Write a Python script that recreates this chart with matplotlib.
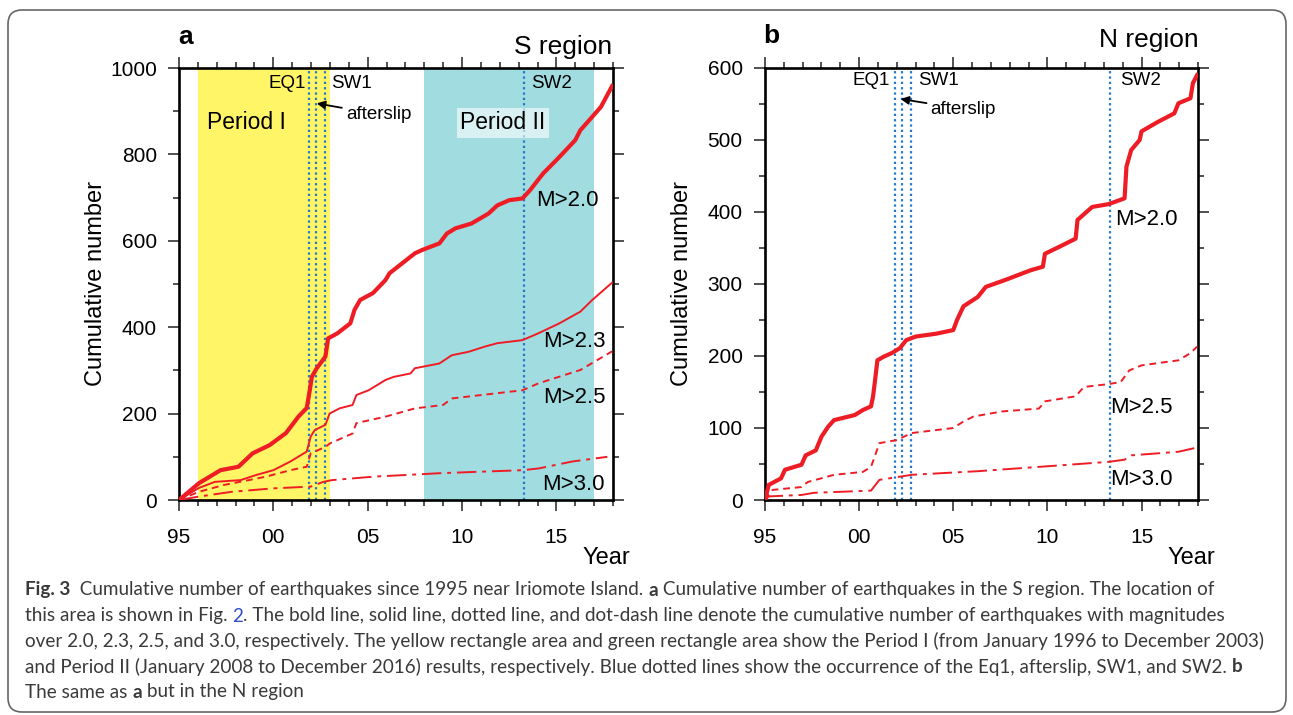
import matplotlib
matplotlib.use('Agg')
import matplotlib.pyplot as plt
from matplotlib.patches import FancyBboxPatch
from matplotlib.transforms import IdentityTransform

plt.rcParams['font.family'] = ['Liberation Sans', 'DejaVu Sans']

# ---- data ----
S_M20_year = [1995.0, 1996.06, 1997.2, 1998.15, 1998.9, 1999.8, 2000.67, 2001.33, 2001.77, 2001.93,
              2002.04, 2002.3, 2002.76, 2002.9, 2003.4, 2004.08, 2004.3, 2004.6, 2005.28, 2005.94,
              2006.16, 2007.5, 2007.9, 2008.8, 2009.2, 2009.66, 2010.5, 2011.4, 2011.87, 2012.5,
              2013.2, 2013.6, 2014.3, 2015.16, 2016.0, 2016.27, 2016.9, 2017.36, 2017.95]
S_M20_count = [0, 39, 69, 77, 108, 127, 155, 193, 213, 254,
               285, 305, 332, 374, 386, 409, 440, 463, 479, 509,
               525, 571, 579, 594, 617, 629, 640, 663, 682, 694,
               698, 717, 756, 794, 833, 856, 887, 910, 958]

S_M23_year = [1995.0, 1996.06, 1996.9, 1998.26, 1999.1, 2000.0, 2000.9, 2001.77, 2001.98, 2002.2,
              2002.76, 2002.98, 2003.5, 2004.2, 2004.4, 2005.05, 2005.95, 2006.38, 2007.27, 2007.5,
              2008.8, 2009.45, 2010.34, 2011.2, 2011.87, 2013.2, 2014.05, 2015.16, 2016.27, 2016.9,
              2017.95]
S_M23_count = [0, 28, 42, 46, 58, 69, 89, 112, 147, 162,
               174, 200, 212, 220, 243, 254, 278, 285, 293, 305,
               316, 335, 343, 355, 363, 370, 386, 409, 436, 463,
               503]

S_M25_year = [1995.0, 1996.06, 1997.4, 1998.7, 1999.6, 2000.9, 2001.77, 2001.98, 2002.4, 2002.76,
              2003.0, 2004.2, 2004.4, 2005.95, 2007.5, 2009.0, 2009.45, 2013.2, 2014.05, 2016.27,
              2017.95]
S_M25_count = [0, 19, 35, 46, 54, 69, 77, 108, 116, 123,
               131, 154, 178, 193, 212, 220, 235, 254, 270, 301,
               344]

S_M30_year = [1995.0, 1996.06, 1997.8, 2000.0, 2001.98, 2002.65, 2003.1, 2005.3, 2008.8, 2013.2,
              2014.05, 2015.83, 2017.7]
S_M30_count = [0, 8, 19, 27, 31, 42, 46, 54, 62, 69, 73, 89, 100]

N_M20_year = [1995.0, 1995.2, 1995.85, 1996.06, 1996.94, 1997.16, 1997.7, 1998.0, 1998.36, 1998.67,
              1999.77, 2000.2, 2000.63, 2000.74, 2000.85, 2000.97, 2001.3, 2001.73, 2002.17, 2002.5,
              2003.0, 2004.1, 2005.0, 2005.2, 2005.54, 2006.3, 2006.73, 2007.8, 2008.0, 2009.1,
              2009.76, 2009.87, 2010.66, 2011.5, 2011.6, 2012.38, 2013.26, 2014.1, 2014.2, 2014.45,
              2014.9, 2015.0, 2015.86, 2016.74, 2016.96, 2017.6, 2017.73, 2017.95]
N_M20_count = [0, 21, 30, 42, 49, 62, 69, 88, 102, 111,
               118, 125, 130, 144, 167, 194, 199, 204, 211, 222,
               227, 231, 236, 250, 269, 282, 296, 306, 308, 319,
               324, 342, 352, 363, 389, 407, 411, 419, 463, 486,
               500, 512, 525, 537, 551, 558, 579, 590]

N_M25_year = [1995.0, 1995.4, 1996.94, 1997.27, 1998.67, 2000.2, 2000.63, 2001.08, 2001.96, 2002.8,
              2005.0, 2005.54, 2006.08, 2007.6, 2009.55, 2009.87, 2011.5, 2011.94, 2013.26, 2013.9,
              2014.35, 2015.0, 2016.96, 2017.6, 2017.95]
N_M25_count = [0, 14, 18, 25, 35, 39, 46, 79, 83, 93,
               100, 109, 116, 123, 127, 137, 144, 157, 161, 164,
               180, 187, 194, 204, 213]

N_M30_year = [1995.0, 1995.2, 1996.94, 1997.6, 2000.63, 2001.08, 2002.8, 2006.3, 2009.55, 2013.26,
              2014.1, 2014.45, 2016.96, 2017.8]
N_M30_count = [0, 5, 7, 10, 13, 28, 35, 40, 46, 53, 56, 62, 67, 72]

event_names = ['EQ1', 'afterslip', 'SW1', 'SW2']
event_years = [2001.9, 2002.27, 2002.73, 2013.3]
period1 = (1996.0, 2003.0)
period2 = (2008.0, 2017.0)

xticks = [1995, 2000, 2005, 2010, 2015]
xticklabels = ['95', '00', '05', '10', '15']

RED = '#ee1c25'
BLUE = '#1f78c8'
W, H = 1293, 715

fig = plt.figure(figsize=(W / 100, H / 100), dpi=100)
fig.patch.set_facecolor('white')


def px_axes(left, right, top, bottom):
    return fig.add_axes([left / W, 1 - bottom / H, (right - left) / W, (bottom - top) / H])


def style_axes(ax, ymax, ymajor, yminor):
    ax.set_xlim(1995, 2018)
    ax.set_ylim(0, ymax)
    ax.set_xticks(xticks)
    ax.set_xticklabels(xticklabels)
    ax.set_xticks(range(1995, 2019), minor=True)
    ax.set_yticks(range(0, ymax + 1, ymajor))
    ax.set_yticks(range(0, ymax + 1, yminor), minor=True)
    for s in ax.spines.values():
        s.set_linewidth(1.9)
    ax.tick_params(which='both', direction='out', top=True, right=True,
                   width=1.2, color='#333333', labelsize=15)
    ax.tick_params(which='major', length=8)
    ax.tick_params(which='minor', length=4.5)
    ax.tick_params(axis='y', pad=8)
    ax.tick_params(axis='x', pad=12)
    ax.text(-0.192, 0.5, 'Cumulative number', transform=ax.transAxes, rotation=90,
            ha='center', va='center', fontsize=17)
    ax.text(1.04, -0.134, 'Year', transform=ax.transAxes, ha='right', va='center', fontsize=17)


def draw_events(ax):
    for yr in event_years:
        ax.axvline(yr, color=BLUE, lw=1.6, ls=(0, (1, 1.4)), zorder=2)


def draw_curves(ax, curves):
    for yrs, cnt, lw, ls in curves:
        ax.plot(yrs, cnt, color=RED, lw=lw, ls=ls, zorder=3, solid_joinstyle='round')


# ---- panel a: S region ----
ax1 = px_axes(179, 613, 68, 500)
ax1.axvspan(*period1, color='#fff566', lw=0, zorder=0)
ax1.axvspan(*period2, color='#a1dde0', lw=0, zorder=0)
draw_events(ax1)
draw_curves(ax1, [
    (S_M20_year, S_M20_count, 3.0, '-'),
    (S_M23_year, S_M23_count, 1.4, '-'),
    (S_M25_year, S_M25_count, 1.4, (0, (3.5, 2.5))),
    (S_M30_year, S_M30_count, 1.4, (0, (10, 3, 2, 3))),
])
style_axes(ax1, 1000, 200, 100)
ax1.text(2001.75, 965, 'EQ1', ha='right', va='center', fontsize=13.5)
ax1.text(2003.05, 965, 'SW1', ha='left', va='center', fontsize=13.5)
ax1.text(2013.65, 965, 'SW2', ha='left', va='center', fontsize=13.5)
ax1.annotate('afterslip', xy=(2002.3, 918), xytext=(2003.85, 893), ha='left', va='center',
             fontsize=13.5, arrowprops=dict(arrowstyle='-|>', color='black', lw=1.3,
                                            mutation_scale=12, shrinkA=1, shrinkB=0))
ax1.text(1996.5, 873, 'Period I', ha='left', va='center', fontsize=16.5)
ax1.text(2009.9, 873, 'Period II', ha='left', va='center', fontsize=16.5,
          bbox=dict(boxstyle='square,pad=0.15', fc='white', ec='none', alpha=0.6))
ax1.text(2013.95, 694, 'M>2.0', ha='left', va='center', fontsize=16)
ax1.text(2014.3, 366, 'M>2.3', ha='left', va='center', fontsize=16)
ax1.text(2014.3, 238, 'M>2.5', ha='left', va='center', fontsize=16)
ax1.text(2014.25, 37, 'M>3.0', ha='left', va='center', fontsize=16)
fig.text(178 / W, 1 - 44 / H, 'a', fontsize=19, fontweight='bold', ha='left', va='baseline')
fig.text(612 / W, 1 - 54 / H, 'S region', fontsize=19, ha='right', va='baseline')

# ---- panel b: N region ----
ax2 = px_axes(765, 1198, 68, 500)
draw_events(ax2)
draw_curves(ax2, [
    (N_M20_year, N_M20_count, 3.0, '-'),
    (N_M25_year, N_M25_count, 1.4, (0, (3.5, 2.5))),
    (N_M30_year, N_M30_count, 1.4, (0, (10, 3, 2, 3))),
])
style_axes(ax2, 600, 100, 50)
ax2.text(2001.65, 582, 'EQ1', ha='right', va='center', fontsize=13.5)
ax2.text(2003.15, 582, 'SW1', ha='left', va='center', fontsize=13.5)
ax2.text(2013.85, 582, 'SW2', ha='left', va='center', fontsize=13.5)
ax2.annotate('afterslip', xy=(2002.2, 557), xytext=(2003.8, 543), ha='left', va='center',
             fontsize=13.5, arrowprops=dict(arrowstyle='-|>', color='black', lw=1.3,
                                            mutation_scale=12, shrinkA=1, shrinkB=0))
ax2.text(2013.6, 389, 'M>2.0', ha='left', va='center', fontsize=16)
ax2.text(2013.35, 129, 'M>2.5', ha='left', va='center', fontsize=16)
ax2.text(2013.35, 28, 'M>3.0', ha='left', va='center', fontsize=16)
fig.text(763 / W, 1 - 43 / H, 'b', fontsize=19, fontweight='bold', ha='left', va='baseline')
fig.text(1199 / W, 1 - 47 / H, 'N region', fontsize=19, ha='right', va='baseline')

# ---- frame around figure + caption ----
frame = FancyBboxPatch((8, H - 712), 1278, 702, boxstyle='round,pad=0,rounding_size=14',
                       transform=IdentityTransform(), fc='none', ec='#666666', lw=1.2)
fig.add_artist(frame)

CAP = '#3a3a3a'
LINK = '#2f4fc8'
caption = [
    [('Fig. 3', 'bold', CAP), ('  Cumulative number of earthquakes since 1995 near Iriomote Island. ', 'normal', CAP),
     ('a', 'bold', CAP), (' Cumulative number of earthquakes in the S region. The location of', 'normal', CAP)],
    [('this area is shown in Fig. ', 'normal', CAP), ('2', 'normal', LINK),
     ('. The bold line, solid line, dotted line, and dot-dash line denote the cumulative number of earthquakes with magnitudes', 'normal', CAP)],
    [('over 2.0, 2.3, 2.5, and 3.0, respectively. The yellow rectangle area and green rectangle area show the Period I (from January 1996 to December 2003)', 'normal', CAP)],
    [('and Period II (January 2008 to December 2016) results, respectively. Blue dotted lines show the occurrence of the Eq1, afterslip, SW1, and SW2. ', 'normal', CAP),
     ('b', 'bold', CAP)],
    [('The same as ', 'normal', CAP), ('a', 'bold', CAP), (' but in the N region', 'normal', CAP)],
]
cap_y = [590, 616, 641, 667, 692]
CAP_FONT = 'Lato'

renderer = fig.canvas.get_renderer()


def text_width(s, size, weight):
    # bars around the string keep leading/trailing spaces in the measurement
    t1 = fig.text(0, 0, '|' + s + '|', fontsize=size, fontweight=weight, family=CAP_FONT)
    t2 = fig.text(0, 0, '||', fontsize=size, fontweight=weight, family=CAP_FONT)
    w = t1.get_window_extent(renderer).width - t2.get_window_extent(renderer).width
    t1.remove()
    t2.remove()
    return w


# fit font size so that the longest line spans the caption width
base = 12.0
w3 = text_width(caption[2][0][0], base, 'normal')
cap_size = base * (1257 - 25) / w3

for segs, y in zip(caption, cap_y):
    x = 25
    for s, weight, col in segs:
        fig.text(x / W, 1 - y / H, s, fontsize=cap_size, fontweight=weight, color=col,
                 family=CAP_FONT, ha='left', va='center')
        x += text_width(s, cap_size, weight)

fig.savefig('out.png', dpi=100, facecolor='white')
